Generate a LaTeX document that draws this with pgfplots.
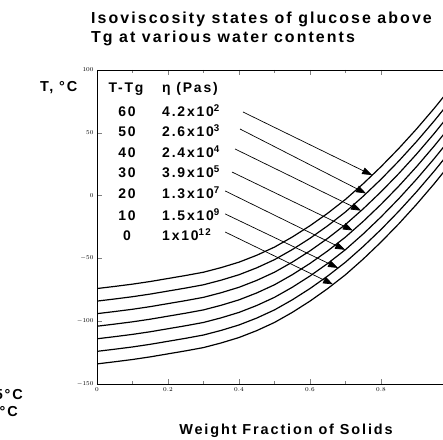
\documentclass[border=0pt]{standalone}
\usepackage{fontspec}
\setmainfont{Liberation Sans}
\newfontfamily\lab{Liberation Sans}[LetterSpace=13]
\usepackage{pgfplots}
\usepackage{pgfplotstable}
\pgfplotsset{compat=1.18}
\usetikzlibrary{arrows.meta}

% isoviscosity curves, T (deg C) against weight fraction of solids
\pgfplotstableread{
w     t60    t50    t40    t30    t20    t10    t0
0     -74    -84    -94    -104   -114   -124   -134
0.05  -72.3  -82.3  -92.3  -102.3 -112.3 -122.3 -132.3
0.1   -70.5  -80.5  -90.5  -100.5 -110.5 -120.5 -130.5
0.15  -68.4  -78.4  -88.4  -98.4  -108.4 -118.4 -128.4
0.2   -66    -76    -86    -96    -106   -116   -126
0.25  -63.6  -73.6  -83.6  -93.6  -103.6 -113.6 -123.6
0.3   -61    -71    -81    -91    -101   -111   -121
0.35  -57.3  -67.3  -77.3  -87.3  -97.3  -107.3 -117.3
0.4   -53    -63    -73    -83    -93    -103   -113
0.45  -47.5  -57.5  -67.5  -77.5  -87.5  -97.5  -107.5
0.5   -41    -51    -61    -71    -81    -91    -101
0.55  -33    -43    -53    -63    -73    -83    -93
0.6   -24    -34    -44    -54    -64    -74    -84
0.65  -14    -24    -34    -44    -54    -64    -74
0.7   -3     -13    -23    -33    -43    -53    -63
0.75  9.5    -0.5   -10.5  -20.5  -30.5  -40.5  -50.5
0.8   23     13     3      -7     -17    -27    -37
0.85  37.5   27.5   17.5   7.5    -2.5   -12.5  -22.5
0.9   53     43     33     23     13     3      -7
0.95  69.5   59.5   49.5   39.5   29.5   19.5   9.5
1.0   87     77     67     57     47     37     27
}\curves

\begin{document}
\begin{tikzpicture}
\useasboundingbox (0bp,0bp) rectangle (443bp,440bp);
\begin{axis}[
  at={(97bp,56bp)}, anchor=south west,
  scale only axis, width=355bp, height=314bp,
  xmin=0, xmax=1, ymin=-150, ymax=100,
  xtick={0,0.2,0.4,0.6,0.8},
  ytick={-150,-100,-50,0,50,100},
  minor x tick num=1,
  tick label style={font=\fontsize{6}{6}\selectfont},
  axis line style={line width=0.9pt},
  major tick length=5pt,
]
\pgfplotsinvokeforeach{t60,t50,t40,t30,t20,t10,t0}{
  \addplot[black, line width=1.2pt, line join=round] table[x=w, y=#1] {\curves};
}
\addplot[black, line width=0.7pt, -{Triangle[length=10pt,width=7pt]}] coordinates {(0.411,66.6) (0.775,16.3)};
\addplot[black, line width=0.7pt, -{Triangle[length=10pt,width=7pt]}] coordinates {(0.403,53.0) (0.758,1.7)};
\addplot[black, line width=0.7pt, -{Triangle[length=10pt,width=7pt]}] coordinates {(0.389,37.1) (0.744,-12.0)};
\addplot[black, line width=0.7pt, -{Triangle[length=10pt,width=7pt]}] coordinates {(0.380,18.8) (0.721,-27.8)};
\addplot[black, line width=0.7pt, -{Triangle[length=10pt,width=7pt]}] coordinates {(0.361,3.7) (0.699,-43.2)};
\addplot[black, line width=0.7pt, -{Triangle[length=10pt,width=7pt]}] coordinates {(0.361,-14.6) (0.679,-57.6)};
\addplot[black, line width=0.7pt, -{Triangle[length=10pt,width=7pt]}] coordinates {(0.361,-29.0) (0.665,-70.7)};
\end{axis}

\begin{scope}[every node/.style={font=\lab\bfseries\fontsize{16}{16}\selectfont, inner sep=0pt}]
\node[anchor=base west] at (91bp,416bp) {Isoviscosity states of glucose above};
\node[anchor=base west] at (91bp,397bp) {Tg at various water contents};
\end{scope}
\begin{scope}[every node/.style={font=\lab\bfseries\fontsize{14.5}{14.5}\selectfont, inner sep=0pt}]
\node[anchor=base west] at (40bp,348bp) {T, °C};
\node[anchor=base] at (286bp,6bp) {Weight Fraction of Solids};
\node[anchor=base east] at (23bp,40bp) {5°C};
\node[anchor=base east] at (18bp,24bp) {°C};
\end{scope}

\begin{scope}[every node/.style={font=\lab\bfseries\fontsize{14}{14}\selectfont, inner sep=0pt}]
\node[anchor=base] at (126bp,347bp) {T-Tg};
\node[anchor=base west] at (162bp,347bp) {η (Pas)};
\foreach \t/\v/\y in {60/4.2x10\textsuperscript{2}/323, 50/2.6x10\textsuperscript{3}/303,
  40/2.4x10\textsuperscript{4}/282, 30/3.9x10\textsuperscript{5}/262,
  20/1.3x10\textsuperscript{7}/241, 10/1.5x10\textsuperscript{9}/219,
  0/1x10\textsuperscript{12}/199}{
  \node[anchor=base] at (127bp,\y bp) {\t};
  \node[anchor=base west] at (162bp,\y bp) {\v};
}
\end{scope}
\end{tikzpicture}
\end{document}
